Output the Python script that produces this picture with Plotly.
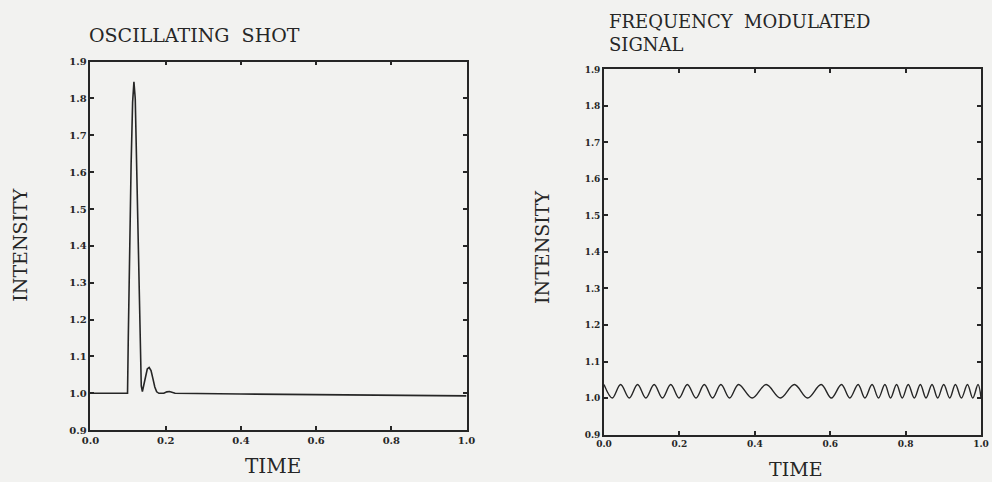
import plotly.graph_objects as go

# ---------------- data ----------------
# Left panel: oscillating shot (time, intensity)
shot_t = [0.0, 0.0985, 0.1005, 0.104, 0.108, 0.112, 0.1155, 0.119, 0.123, 0.128,
          0.132, 0.135, 0.138, 0.141, 0.146, 0.151, 0.156, 0.161, 0.166, 0.171,
          0.176, 0.182, 0.195, 0.203, 0.210, 0.217, 0.225, 0.4, 0.6, 0.8, 1.0]
shot_y = [1.0, 1.0, 1.15, 1.40, 1.62, 1.79, 1.845, 1.80, 1.60, 1.33,
          1.13, 1.02, 1.005, 1.02, 1.05, 1.066, 1.07, 1.062, 1.04, 1.017,
          1.004, 1.0, 1.0, 1.004, 1.005, 1.003, 1.0, 0.998, 0.996, 0.995, 0.993]

# Right panel: frequency modulated signal, read as peak / trough times
fm_peak_t = [0.000, 0.044, 0.089, 0.133, 0.177, 0.221, 0.266, 0.310, 0.357,
             0.430, 0.505, 0.576, 0.630, 0.674, 0.711, 0.745, 0.776, 0.807,
             0.839, 0.870, 0.901, 0.932, 0.964, 0.992]
fm_trough_t = [0.022, 0.067, 0.111, 0.155, 0.199, 0.244, 0.288, 0.333, 0.393,
               0.468, 0.540, 0.603, 0.652, 0.692, 0.728, 0.760, 0.791, 0.823,
               0.854, 0.885, 0.917, 0.948, 0.978, 1.000]
fm_peak_y = 1.037
fm_trough_y = 1.0

y_ticks = [0.9, 1.0, 1.1, 1.2, 1.3, 1.4, 1.5, 1.6, 1.7, 1.8, 1.9]
x_ticks = [0.0, 0.2, 0.4, 0.6, 0.8, 1.0]

fm_t, fm_y = [], []
for p, q in zip(fm_peak_t, fm_trough_t):
    fm_t += [p, q]
    fm_y += [fm_peak_y, fm_trough_y]

# ---------------- style ----------------
BG = "#f2f2f0"
INK = "#262626"
SERIF = "DejaVu Serif"

fig = go.Figure()
fig.add_trace(go.Scatter(x=shot_t, y=shot_y, mode="lines",
                         line=dict(color=INK, width=1.6),
                         xaxis="x", yaxis="y", showlegend=False))
fig.add_trace(go.Scatter(x=fm_t, y=fm_y, mode="lines",
                         line=dict(color=INK, width=1.4, shape="spline"),
                         xaxis="x2", yaxis="y2", showlegend=False))


def xax(domain, anchor, size):
    return dict(domain=domain, anchor=anchor, range=[0, 1], tickvals=x_ticks,
                ticktext=[f"{v:.1f}" for v in x_ticks],
                showline=True, linecolor=INK, linewidth=1.6, mirror="ticks",
                ticks="inside", ticklen=4, tickcolor=INK, tickwidth=1.6,
                showgrid=False, zeroline=False, ticklabeloverflow="allow",
                tickfont=dict(family=SERIF, size=size, color=INK, weight="bold"))


def yax(domain, anchor, size):
    return dict(domain=domain, anchor=anchor, range=[0.9, 1.9], tickvals=y_ticks,
                ticktext=[f"{v:.1f}" for v in y_ticks],
                showline=True, linecolor=INK, linewidth=1.6, mirror="ticks",
                ticks="inside", ticklen=4, tickcolor=INK, tickwidth=1.6,
                showgrid=False, zeroline=False, ticklabeloverflow="allow",
                tickfont=dict(family=SERIF, size=size, color=INK, weight="bold"))


W, H = 992, 482
annotations = [
    dict(text="OSCILLATING&nbsp;&nbsp;SHOT", x=79 / W, y=1 - 30 / H, xref="paper", yref="paper",
         xanchor="left", yanchor="middle", showarrow=False,
         font=dict(family=SERIF, size=19, color=INK)),
    dict(text="FREQUENCY&nbsp;&nbsp;MODULATED<br>SIGNAL", x=609 / W, y=1 - 28 / H,
         xref="paper", yref="paper", xanchor="left", yanchor="middle", align="left",
         showarrow=False, font=dict(family=SERIF, size=18, color=INK)),
    dict(text="INTENSITY", x=11 / W, y=1 - 245 / H, xref="paper", yref="paper",
         xanchor="center", yanchor="middle", textangle=-90, showarrow=False,
         font=dict(family=SERIF, size=19, color=INK)),
    dict(text="INTENSITY", x=543 / W, y=1 - 248 / H, xref="paper", yref="paper",
         xanchor="center", yanchor="middle", textangle=-90, showarrow=False,
         font=dict(family=SERIF, size=19, color=INK)),
    dict(text="TIME", x=269 / W, y=1 - 472 / H, xref="paper", yref="paper",
         xanchor="center", yanchor="middle", showarrow=False,
         font=dict(family=SERIF, size=20, color=INK)),
    dict(text="TIME", x=802 / W, y=1 - 475 / H, xref="paper", yref="paper",
         xanchor="center", yanchor="middle", showarrow=False,
         font=dict(family=SERIF, size=19, color=INK)),
]

fig.update_layout(
    width=W, height=H,
    margin=dict(l=0, r=0, t=0, b=0),
    paper_bgcolor=BG, plot_bgcolor=BG,
    xaxis=xax([83 / W, 466 / W], "y", 10),
    yaxis=yax([(H - 435) / H, (H - 57) / H], "x", 10),
    xaxis2=xax([606 / W, 990 / W], "y2", 9),
    yaxis2=yax([(H - 439.5) / H, (H - 65) / H], "x2", 9),
    annotations=annotations,
)

fig.write_html("out.html")
